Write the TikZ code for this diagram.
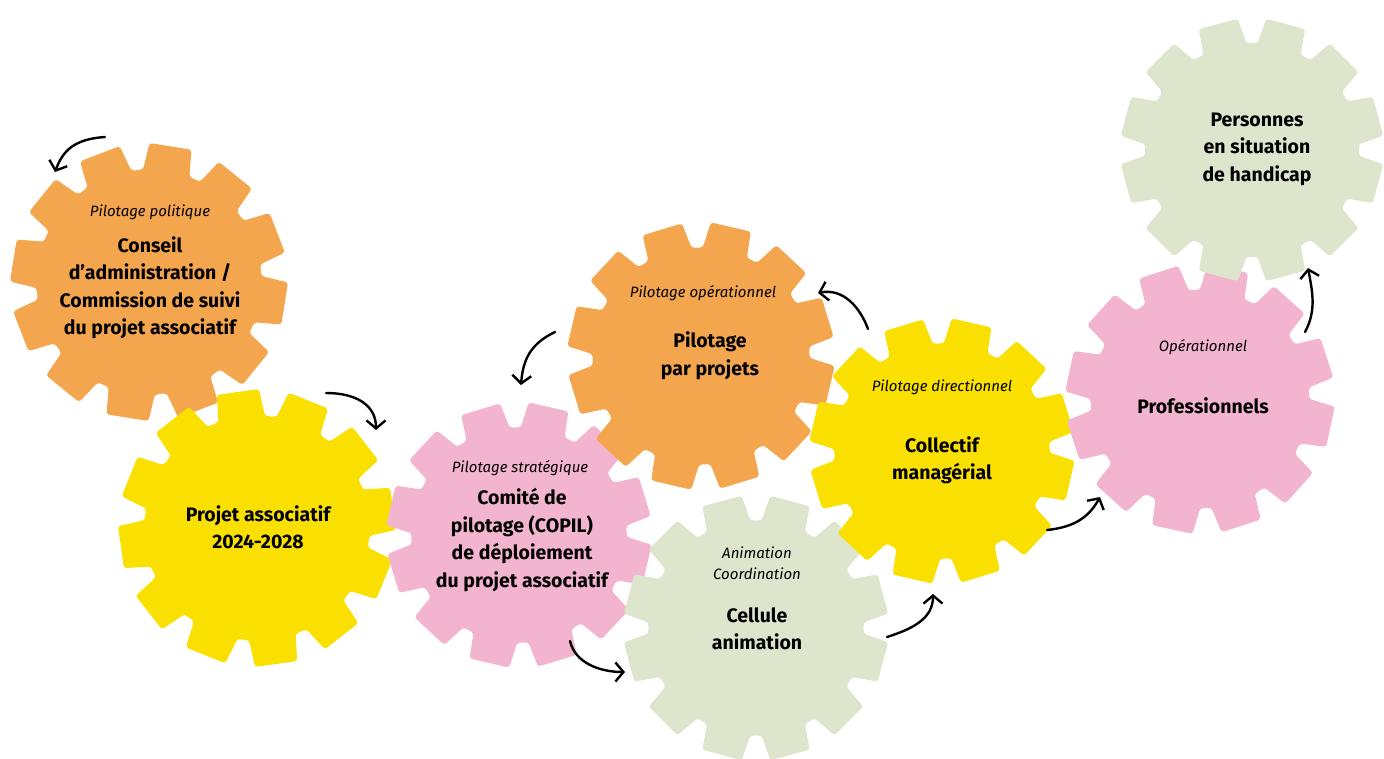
\documentclass[tikz,border=0pt]{standalone}
\usepackage{fontspec}
\setmainfont{Fira Sans}
\usetikzlibrary{calc,arrows.meta}

\definecolor{gearorange}{RGB}{244,166,78}
\definecolor{gearyellow}{RGB}{249,224,0}
\definecolor{gearpink}{RGB}{243,180,207}
\definecolor{geargreen}{RGB}{221,229,205}

% a cog with 12 teeth: x, y, outer radius, turn, colour
\newcommand{\cog}[5]{%
  \fill[#5, rounded corners=3pt] ($(#1,#2)+(#4-15:0.81*#3)$)
    \foreach \k in {0,...,11}{
      -- ($(#1,#2)+(#4+30*\k-12:0.81*#3)$)
      -- ($(#1,#2)+(#4+30*\k-8.8:#3)$)
      -- ($(#1,#2)+(#4+30*\k+8.8:#3)$)
      -- ($(#1,#2)+(#4+30*\k+12:0.81*#3)$)
    } -- cycle;}

\begin{document}
\begin{tikzpicture}[
    x = 1pt, y = -1pt,
    role/.style = {font = \fontsize{15}{21}\selectfont\itshape,
        align = center, inner sep = 0pt},
    title/.style = {font = \fontsize{19.5}{27.5}\selectfont\bfseries,
        align = center, inner sep = 0pt},
    turn/.style = {-{Straight Barb[length=8pt,width=19pt]},
        line width = 2.4pt, line cap = round}
]
\useasboundingbox (0,0) rectangle (1384,758);

% the cogs
\cog{149}{282}{139}{-21}{gearorange}
\cog{257}{528}{139}{-8}{gearyellow}
\cog{519}{535}{133}{-17}{gearpink}
\cog{701}{356}{134}{-17}{gearorange}
\cog{756}{628}{133}{-15}{geargreen}
\cog{942}{451}{133}{-17}{gearyellow}
\cog{1200}{399}{135}{-18}{gearpink}
\cog{1252}{150}{132}{-15}{geargreen}

% texts
\node[role] (conseil-role) at (150,212) {Pilotage politique};
\node[title] (conseil) at (150,288) {Conseil\\d’administration /\\Commission de suivi\\du projet associatif};

\node[title] (projet) at (258,527) {Projet associatif\\2024-2028};

\node[role] (copil-role) at (520,468) {Pilotage stratégique};
\node[title] (copil) at (522,540) {Comité de\\pilotage (COPIL)\\de déploiement\\du projet associatif};

\node[role] (projets-role) at (703,293) {Pilotage opérationnel};
\node[title] (projets) at (710,356) {Pilotage\\par projets};

\node[role] (cellule-role) at (757,563) {Animation\\Coordination};
\node[title] (cellule) at (757,629) {Cellule\\animation};

\node[role] (collectif-role) at (942,387) {Pilotage directionnel};
\node[title] (collectif) at (942,460) {Collectif\\managérial};

\node[role] (pros-role) at (1203,347) {Opérationnel};
\node[title] (pros) at (1203,406) {Professionnels};

\node[title] (personnes) at (1257,149) {Personnes\\en situation\\de handicap};

% arrows
\coordinate (a1s) at (105,137);  \coordinate (a1e) at (55,172);
\coordinate (a2s) at (326,393);  \coordinate (a2e) at (376,430);
\coordinate (a3s) at (555,332);  \coordinate (a3e) at (521,385);
\coordinate (a4s) at (868,329);  \coordinate (a4e) at (818,293);
\coordinate (a5s) at (570,641);  \coordinate (a5e) at (625,672);
\coordinate (a6s) at (887,637);  \coordinate (a6e) at (933,594);
\coordinate (a7s) at (1047,530); \coordinate (a7e) at (1100,497);
\coordinate (a8s) at (1305,332); \coordinate (a8e) at (1308,268);

\draw[turn] (a1s) .. controls +(-30,2) and +(8,-22) .. (a1e);
\draw[turn] (a2s) .. controls +(30,0) and +(0,-25) .. (a2e);
\draw[turn] (a3s) .. controls +(-25,12) and +(2,-25) .. (a3e);
\draw[turn] (a4s) .. controls +(-8,-22) and +(25,-5) .. (a4e);
\draw[turn] (a5s) .. controls +(5,22) and +(-25,0) .. (a5e);
\draw[turn] (a6s) .. controls +(25,-8) and +(0,25) .. (a6e);
\draw[turn] (a7s) .. controls +(30,-3) and +(-10,18) .. (a7e);
\draw[turn] (a8s) .. controls +(12,-22) and +(4,22) .. (a8e);

\end{tikzpicture}
\end{document}
